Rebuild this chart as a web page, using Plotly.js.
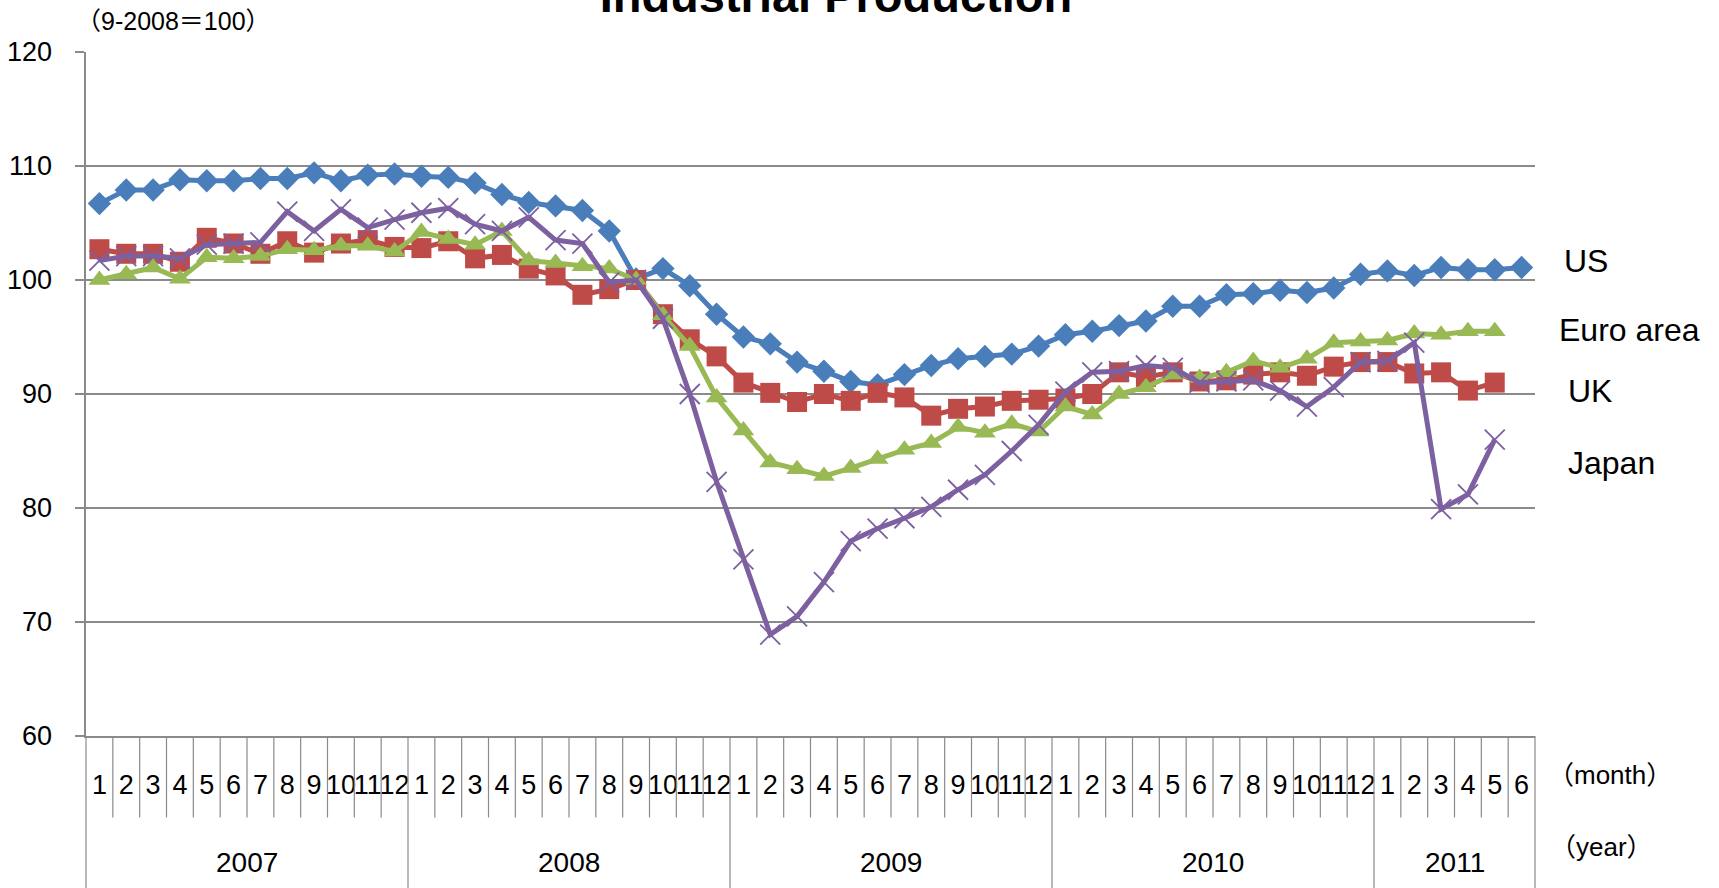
<!DOCTYPE html>
<html><head><meta charset="utf-8">
<script src="https://cdn.plot.ly/plotly-3.0.1.min.js"></script>
<style>html,body{margin:0;padding:0;background:#fff;} #chart{width:1719px;height:888px;}</style>
</head><body><div id="chart"></div>
<script>
// ---- data ----
const years = ['2007', '2008', '2009', '2010', '2011'];
const monthsInYear = [12, 12, 12, 12, 6];
const seriesNames = ['US', 'UK', 'Euro area', 'Japan'];
const us = [106.7,107.9,107.9,108.8,108.7,108.7,108.9,108.9,109.4,108.7,109.2,109.3,
            109.1,109.0,108.5,107.5,106.8,106.5,106.1,104.3,100.1,101.0,99.5,97.0,
            95.0,94.4,92.8,92.0,91.1,90.8,91.7,92.5,93.1,93.3,93.5,94.2,
            95.2,95.5,96.0,96.4,97.7,97.7,98.7,98.8,99.1,98.9,99.3,100.5,
            100.8,100.4,101.1,100.9,100.9,101.1];
const uk = [102.7,102.3,102.3,101.6,103.7,103.2,102.3,103.4,102.4,103.2,103.5,102.9,
            102.8,103.4,101.9,102.2,101.0,100.4,98.7,99.2,100.0,97.0,94.8,93.3,
            91.0,90.1,89.3,90.0,89.4,90.1,89.7,88.1,88.7,88.9,89.4,89.5,
            89.6,90.0,91.9,91.5,91.9,91.1,91.2,91.7,91.9,91.6,92.4,92.8,
            92.8,91.8,91.9,90.3,91.0,null];
const euro = [100.0,100.5,101.1,100.1,102.0,101.9,102.1,102.7,102.6,103.0,103.0,102.5,
              104.2,103.6,103.1,104.3,101.7,101.5,101.2,101.0,100.0,96.9,94.2,89.7,
              86.8,84.0,83.4,82.8,83.5,84.3,85.1,85.7,87.1,86.6,87.4,86.7,
              88.9,88.2,90.0,90.6,91.7,91.4,91.9,92.9,92.3,93.1,94.5,94.6,
              94.7,95.3,95.2,95.5,95.5,null];
const japan = [101.7,102.1,102.1,101.9,103.1,103.2,103.3,106.0,104.3,106.2,104.6,105.3,
               105.9,106.3,104.9,104.3,105.5,103.5,103.2,99.8,100.0,96.6,90.0,82.3,
               75.5,68.9,70.5,73.5,77.1,78.2,79.1,80.1,81.6,82.9,85.0,87.3,
               90.2,91.9,92.0,92.5,92.3,91.0,91.1,91.2,90.3,88.9,90.6,92.8,
               92.9,94.5,79.9,81.2,86.0,null];
const yTicks = [60, 70, 80, 90, 100, 110, 120];

// ---- build categories ----
const categories = [], monthLabels = [];
years.forEach((y, k) => {
  for (let m = 1; m <= monthsInYear[k]; m++) { categories.push(y + '-' + m); monthLabels.push(String(m)); }
});
const n = categories.length;

const FONT = '"Liberation Sans", Arial, sans-serif';
const CJKFONT = '"Liberation Sans", "Noto Sans CJK JP", sans-serif';
const GRID = '#8a8a8a';

const colors = ['#4a7ebb', '#be4b48', '#98b954', '#7d60a0'];
const symbols = ['diamond', 'square', 'triangle-up', 'x-thin'];
const sizes = [18, 20, 19, 20];
const values = [us, uk, euro, japan];

const traces = values.map((v, k) => ({
  type: 'scatter', mode: 'lines+markers', name: seriesNames[k],
  x: categories, y: v,
  line: {color: colors[k], width: 5},
  marker: {symbol: symbols[k], size: sizes[k], color: colors[k],
           line: {color: colors[k], width: k === 3 ? 1.8 : 0}},
  hoverinfo: 'skip'
}));

// separators below the axis (derived from the category list)
const yearStarts = new Set();
let acc = 0; yearStarts.add(0);
monthsInYear.forEach(c => { acc += c; yearStarts.add(acc); });
const shapes = [];
for (let b = 0; b <= n; b++) {
  shapes.push({type: 'line', xref: 'paper', yref: 'paper', x0: b / n, x1: b / n,
    y0: 0, y1: yearStarts.has(b) ? -0.23 : -0.119, line: {color: GRID, width: 1.2}});
}

const annotations = [];
acc = 0;
years.forEach((y, k) => {
  const center = acc + (monthsInYear[k] - 1) / 2;
  acc += monthsInYear[k];
  annotations.push({xref: 'paper', yref: 'paper', x: (center + 0.5) / n, y: -0.185,
    text: y, showarrow: false, xanchor: 'center', yanchor: 'middle',
    font: {family: FONT, size: 28, color: '#000'}});
});
const sideLabels = [
  {text: 'US', x: 1.0186, y: 0.695},
  {text: 'Euro area', x: 1.0152, y: 0.594},
  {text: 'UK', x: 1.0214, y: 0.504},
  {text: 'Japan', x: 1.0214, y: 0.399}
];
sideLabels.forEach(s => annotations.push({xref: 'paper', yref: 'paper', x: s.x, y: s.y, text: s.text,
  showarrow: false, xanchor: 'left', yanchor: 'middle', font: {family: FONT, size: 32, color: '#000'}}));
annotations.push({xref: 'paper', yref: 'paper', x: 1.0186, y: -0.0576, xshift: -16, text: '（month）', showarrow: false,
  xanchor: 'left', yanchor: 'middle', font: {family: CJKFONT, size: 26, color: '#000'}});
annotations.push({xref: 'paper', yref: 'paper', x: 1.0186, y: -0.163, xshift: -14, text: '（year）', showarrow: false,
  xanchor: 'left', yanchor: 'middle', font: {family: CJKFONT, size: 26, color: '#000'}});
annotations.push({xref: 'paper', yref: 'paper', x: 0.0, y: 1.046, xshift: -12, text: '（9-2008＝100）', showarrow: false,
  xanchor: 'left', yanchor: 'middle', font: {family: CJKFONT, size: 25, color: '#000'}});

const layout = {
  width: 1719, height: 888,
  margin: {l: 85.5, r: 184, t: 51.5, b: 152.4, pad: 0},
  paper_bgcolor: '#fff', plot_bgcolor: '#fff',
  showlegend: false,
  title: {text: 'Industrial Production', x: 0.4863, xref: 'container', xanchor: 'center',
          y: 1 - 12 / 888, yref: 'container', yanchor: 'bottom',
          font: {family: FONT, size: 47, weight: 700, color: '#000'}},
  xaxis: {type: 'category', categoryorder: 'array', categoryarray: categories,
          range: [-0.5, n - 0.5], tickmode: 'array', tickvals: categories, ticktext: monthLabels,
          showgrid: false, zeroline: false, showline: true, linecolor: GRID, linewidth: 1.6,
          ticks: '', ticklabelstandoff: 24, tickangle: 0,
          tickfont: {family: FONT, size: 27, color: '#000'}},
  yaxis: {range: [60, 120], tickmode: 'array', tickvals: yTicks, ticktext: yTicks.map(String),
          showgrid: true, gridcolor: GRID, gridwidth: 1.6, zeroline: false,
          showline: true, linecolor: GRID, linewidth: 1.6,
          ticks: 'outside', ticklen: 9, tickcolor: GRID, tickwidth: 1.6, ticklabelstandoff: 18,
          tickfont: {family: FONT, size: 27, color: '#000'}},
  shapes: shapes,
  annotations: annotations
};
Plotly.newPlot('chart', traces, layout, {displayModeBar: false, staticPlot: true});
</script></body></html>
